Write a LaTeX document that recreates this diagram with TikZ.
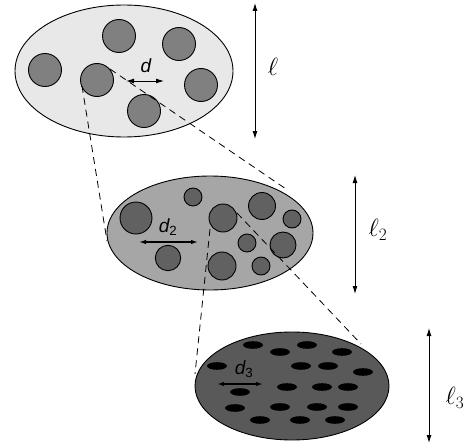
\documentclass[tikz,border=0pt]{standalone}
\usepackage{fontspec}
\newfontfamily\dfont{Liberation Sans}
\usetikzlibrary{arrows.meta}
\begin{document}
\begin{tikzpicture}[x=1pt,y=-1pt,
  outl/.style={draw=black,line width=0.9pt},
  grainA/.style={outl,fill=black!50},
  grainB/.style={outl,fill=black!62},
  blob/.style={fill=black},
  cone/.style={line width=0.8pt,dash pattern=on 7pt off 5pt},
  dim/.style={line width=0.9pt,{Latex[length=8pt,width=5pt]}-{Latex[length=8pt,width=5pt]}},
  sdim/.style={line width=1.3pt,{Latex[length=7pt,width=4.5pt]}-{Latex[length=7pt,width=4.5pt]}},
  ellab/.style={font=\fontsize{27}{30}\selectfont},
  dlab/.style={font=\dfont\itshape\fontsize{19}{21}\selectfont}]
\useasboundingbox (0,0) rectangle (471,444);
% ---- level 1
\path[outl,fill=black!9] (124,71) ellipse [x radius=109, y radius=66];
\foreach \p in {(45,70),(119,36),(179,44),(97,80),(201,85),(144,111)}
  \path[grainA] \p circle [radius=16.5];
\coordinate (c1a) at (82,86);
\coordinate (c1b) at (107,241);
\coordinate (c1c) at (110,69);
\coordinate (c1d) at (286,189);
\draw[cone] (c1a) -- (c1b);
\draw[cone] (c1c) -- (c1d);
\coordinate (dA) at (126,81);
\coordinate (dB) at (164,81);
\draw[dim] (dA) -- (dB);
\node[dlab] (dl) at (146,66) {d};
% ---- level 2
\path[outl,fill=black!35] (210,233) ellipse [x radius=103, y radius=57];
\foreach \p/\r in {(136,218)/16,(193,197)/9,(223,218)/14,(262,206)/13.5,(292,219)/9,(247,243)/9,(283,245)/13,(168,258)/12.7,(222,266)/14,(261,266)/9}
  \path[grainB] \p circle [radius=\r];
\coordinate (c2a) at (210,229);
\coordinate (c2b) at (195,374);
\coordinate (c2c) at (237,213);
\coordinate (c2d) at (361,344);
\draw[cone] (c2a) -- (c2b);
\draw[cone] (c2c) -- (c2d);
\coordinate (d2A) at (139,242);
\coordinate (d2B) at (198,242);
\draw[sdim] (d2A) -- (d2B);
\node[dlab] (d2l) at (168,227) {d\textsubscript{\upshape 2}};
% ---- level 3
\path[outl,fill=black!65] (292,386) ellipse [x radius=97, y radius=54];
\foreach \p in {(253,345),(307,345),(280,352),(342,352),(217,366),(301,366),(328,366),(363,372),(287,387),(322,387),(348,387),(240,392),(235,408),(280,407),(317,407),(348,407),(260,420),(300,420),(335,420)}
  \path[blob] \p ellipse [x radius=10, y radius=3.8];
\coordinate (d3A) at (217,384);
\coordinate (d3B) at (263,384);
\draw[sdim] (d3A) -- (d3B);
\node[dlab] (d3l) at (244,369) {d\textsubscript{\upshape 3}};
% ---- scale arrows
\coordinate (l1t) at (255,3);
\coordinate (l1b) at (255,139);
\draw[dim] (l1t) -- (l1b);
\node[ellab] (l1) at (273,67) {$\ell$};
\coordinate (l2t) at (355,175);
\coordinate (l2b) at (355,294);
\draw[dim] (l2t) -- (l2b);
\node[ellab] (l2) at (378,230) {$\ell_2$};
\coordinate (l3t) at (429,328);
\coordinate (l3b) at (429,443);
\draw[dim] (l3t) -- (l3b);
\node[ellab] (l3) at (455,398) {$\ell_3$};
\end{tikzpicture}
\end{document}
